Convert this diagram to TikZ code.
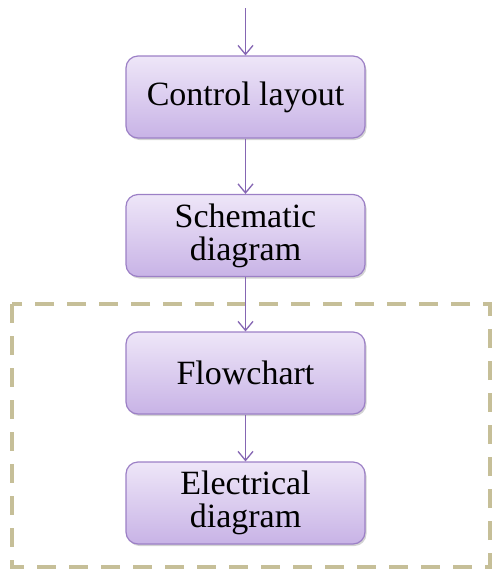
\documentclass[tikz,border=0pt]{standalone}
\usepackage{fontspec}
\setmainfont{Liberation Serif}
\usetikzlibrary{shadows,arrows.meta}
\definecolor{boxtop}{HTML}{EEE6F8}
\definecolor{boxbot}{HTML}{C8B3E6}
\definecolor{boxline}{HTML}{9C80C6}
\definecolor{arrowc}{HTML}{8566B3}
\definecolor{dashc}{HTML}{C6BF98}
\tikzset{
  stepbox/.style={draw=boxline, line width=1.2pt, rounded corners=12pt,
    top color=boxtop, bottom color=boxbot, minimum width=239pt, minimum height=82pt,
    align=center, font=\fontsize{34}{33}\selectfont, text=black,
    drop shadow={shadow xshift=1.5pt, shadow yshift=-2pt, opacity=0.35, fill=gray}},
  flow/.style={draw=arrowc, line width=1.3pt, -{Straight Barb[length=9pt,width=15pt,line width=1.3pt]}},
  zone/.style={draw=dashc, line width=4pt, dash pattern=on 19pt off 13pt}
}
\begin{document}
\begin{tikzpicture}[x=1pt,y=1pt]
\useasboundingbox (0,0) rectangle (493,-574);
\draw[zone] (12,-304) rectangle (490,-567);
\node[stepbox] (a) at (245.5,-97) {Control layout};
\node[stepbox] (b) at (245.5,-235.5) {Schematic\\diagram};
\node[stepbox] (c) at (245.5,-373) {Flowchart};
\node[stepbox] (d) at (245.5,-503) {Electrical\\diagram};
\coordinate (s) at (245.5,-8);
\draw[flow] (s) -- (a.north);
\draw[flow] (a.south) -- (b.north);
\draw[flow] (b.south) -- (c.north);
\draw[flow] (c.south) -- (d.north);
\end{tikzpicture}
\end{document}
